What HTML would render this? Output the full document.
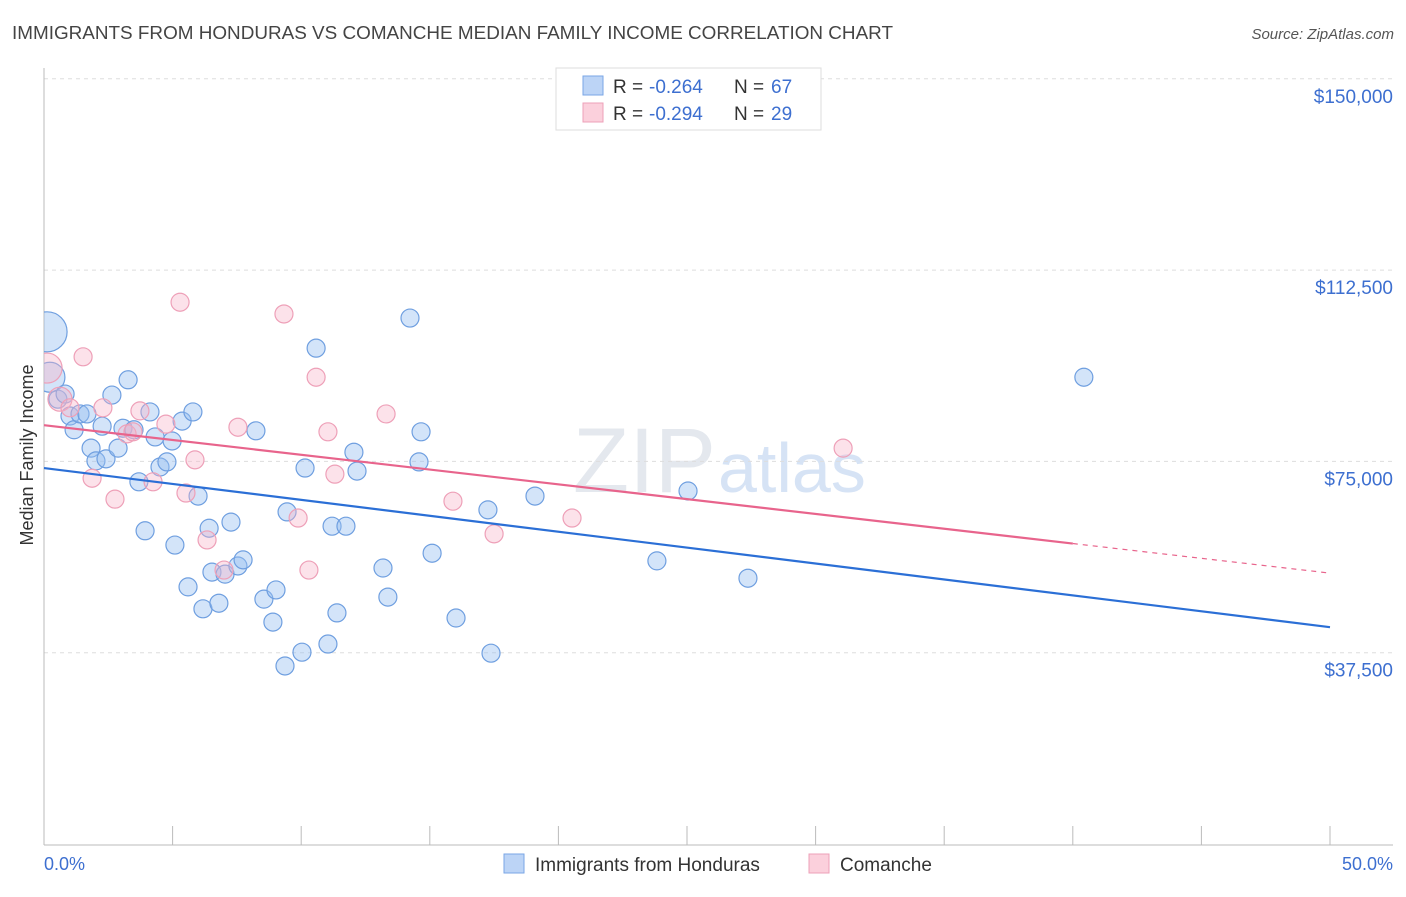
<!DOCTYPE html>
<html><head><meta charset="utf-8"><style>
body{margin:0;background:#fff;font-family:"Liberation Sans",sans-serif;}
svg text{font-family:"Liberation Sans",sans-serif;}
</style></head><body>
<svg id="c" width="1406" height="892">
<defs><clipPath id="plotclip"><rect x="44" y="60" width="1360" height="785"/></clipPath></defs>
<text x="12" y="39" font-size="18" fill="#444" textLength="881" lengthAdjust="spacingAndGlyphs">IMMIGRANTS FROM HONDURAS VS COMANCHE MEDIAN FAMILY INCOME CORRELATION CHART</text>
<text x="1394" y="39" font-size="15" fill="#555" font-style="italic" text-anchor="end">Source: ZipAtlas.com</text>
<text x="716" y="492" font-size="92" fill="#e4e8ee" font-family="Liberation Serif" text-anchor="end">ZIP</text>
<text x="718" y="492" font-size="70" fill="#d6e3f5">atlas</text>
<g id="grid"></g>
<line x1="44" y1="68" x2="44" y2="845" stroke="#bbb"/>
<line x1="44" y1="845" x2="1393" y2="845" stroke="#bbb"/>
<text x="33" y="455" font-size="18" fill="#333" text-anchor="middle" transform="rotate(-90 33 455)">Median Family Income</text>
<text x="44" y="870" font-size="18" fill="#3d6fd0">0.0%</text>
<text x="1393" y="870" font-size="18" fill="#3d6fd0" text-anchor="end">50.0%</text>
<g id="pts" clip-path="url(#plotclip)"></g>
<g id="lines"></g>
<g>
<rect x="556" y="68" width="265" height="62" fill="#fff" stroke="#ddd"/>
<rect x="583" y="76" width="20" height="19" fill="#bcd4f6" stroke="#7aa6e6"/>
<rect x="583" y="103" width="20" height="19" fill="#fbd0dc" stroke="#eea0b8"/>
<text x="613" y="93" font-size="19" fill="#333">R =</text>
<text x="649" y="93" font-size="19" fill="#3d6fd0">-0.264</text>
<text x="734" y="93" font-size="19" fill="#333">N =</text>
<text x="771" y="93" font-size="19" fill="#3d6fd0">67</text>
<text x="613" y="120" font-size="19" fill="#333">R =</text>
<text x="649" y="120" font-size="19" fill="#3d6fd0">-0.294</text>
<text x="734" y="120" font-size="19" fill="#333">N =</text>
<text x="771" y="120" font-size="19" fill="#3d6fd0">29</text>
</g>
<g>
<rect x="504" y="854" width="20" height="19" fill="#bcd4f6" stroke="#7aa6e6"/>
<text x="535" y="871" font-size="19" fill="#333">Immigrants from Honduras</text>
<rect x="809" y="854" width="20" height="19" fill="#fbd0dc" stroke="#eea0b8"/>
<text x="840" y="871" font-size="19" fill="#333">Comanche</text>
</g>
</svg>
<script>
const yTicks=[37500,75000,112500,150000];
const yTickLabels=["$37,500","$75,000","$112,500","$150,000"];
const xTicks=[0,5,10,15,20,25,30,35,40,45,50];
const blueX=[0.12,0.23,0.54,0.82,1.01,1.17,1.40,1.67,1.83,2.02,2.26,2.41,2.64,2.88,3.07,3.27,3.50,3.69,3.93,4.12,4.32,4.51,4.78,4.98,5.09,5.37,5.60,5.79,5.99,6.18,6.42,6.53,6.80,7.04,7.27,7.54,7.74,8.24,8.55,8.90,9.02,9.37,9.45,10.03,10.15,10.58,11.04,11.20,11.39,11.74,12.05,12.17,13.18,13.37,14.23,14.58,14.66,15.09,16.02,17.26,17.38,19.09,23.83,25.04,27.37,40.43];
const blueY=[100.4,91.5,87.2,88.2,83.9,81.2,84.3,84.3,77.6,75.1,81.9,75.5,88.0,77.6,81.5,91.0,81.2,71.0,61.4,84.7,79.8,73.9,74.9,79.0,58.6,82.9,50.4,84.7,68.2,46.1,61.9,53.3,47.2,52.9,63.1,54.5,55.7,81.0,48.0,43.5,49.8,34.9,65.1,37.6,73.7,97.2,39.2,62.3,45.3,62.3,76.8,73.1,54.1,48.4,103.1,74.9,80.8,57.0,44.3,65.5,37.4,68.2,55.5,69.2,52.1,91.5];
const blueR=[20,15];
const pinkX=[0.12,0.62,1.01,1.52,1.87,2.29,2.76,3.23,3.46,3.73,4.24,4.74,5.29,5.52,5.87,6.34,7.00,7.54,9.33,9.88,10.30,10.58,11.04,11.31,13.30,15.90,17.50,20.53,31.07];
const pinkY=[93.3,87.2,85.5,95.5,71.7,85.5,67.6,80.4,80.8,84.9,71.0,82.3,106.2,68.8,75.3,59.6,53.7,81.7,103.9,63.9,53.7,91.5,80.8,72.5,84.3,67.2,60.8,63.9,77.6];
const pinkR=[15,12];
const blueTrend=[73.7,42.5];
const pinkTrend=[82.1,53.1];
const pinkSolidEnd=40;
const NS="http://www.w3.org/2000/svg";
const sx=v=>44+v/50*1286;
const sy=v=>844-v/37500*191.3;
const syk=v=>sy(v*1000);
function mk(t,a,p){const e=document.createElementNS(NS,t);for(const k in a)e.setAttribute(k,a[k]);p.appendChild(e);return e;}
const grid=document.getElementById('grid');
yTicks.forEach((t,i)=>{
 const l=mk('line',{x1:44,x2:1393,y1:sy(t),y2:sy(t),stroke:'#ddd','stroke-dasharray':'4,4'},grid);
 
 
 const tx=mk('text',{x:1393,y:sy(t)+24,'font-size':19,fill:'#3d6fd0','text-anchor':'end'},grid);
 tx.textContent=yTickLabels[i];
 
 
});
xTicks.forEach(t=>{
 const l=mk('line',{x1:sx(t),x2:sx(t),y1:826,y2:845,stroke:'#bbb'},grid);
 
 
});
const pts=document.getElementById('pts');
blueX.forEach((x,i)=>{
 const c=mk('circle',{cx:sx(x),cy:syk(blueY[i]),r:blueR[i]||9,fill:'rgba(150,190,240,0.42)',stroke:'#6f9fe0','stroke-width':1.2},pts);
 
 
});
pinkX.forEach((x,i)=>{
 const c=mk('circle',{cx:sx(x),cy:syk(pinkY[i]),r:pinkR[i]||9,fill:'rgba(246,180,200,0.38)',stroke:'#eea0b8','stroke-width':1.2},pts);
 
 
});
const lines=document.getElementById('lines');
const bl=mk('line',{x1:sx(0),y1:syk(blueTrend[0]),x2:sx(50),y2:syk(blueTrend[1]),stroke:'#2b6fd6','stroke-width':2.2},lines);


const pm=pinkTrend[0]+(pinkTrend[1]-pinkTrend[0])*pinkSolidEnd/50;
const pl=mk('line',{x1:sx(0),y1:syk(pinkTrend[0]),x2:sx(pinkSolidEnd),y2:syk(pm),stroke:'#e8648c','stroke-width':2.2},lines);


const pd=mk('line',{x1:sx(pinkSolidEnd),y1:syk(pm),x2:sx(50),y2:syk(pinkTrend[1]),stroke:'#e8648c','stroke-width':1.2,'stroke-dasharray':'5,5'},lines);


</script>
</body></html>
